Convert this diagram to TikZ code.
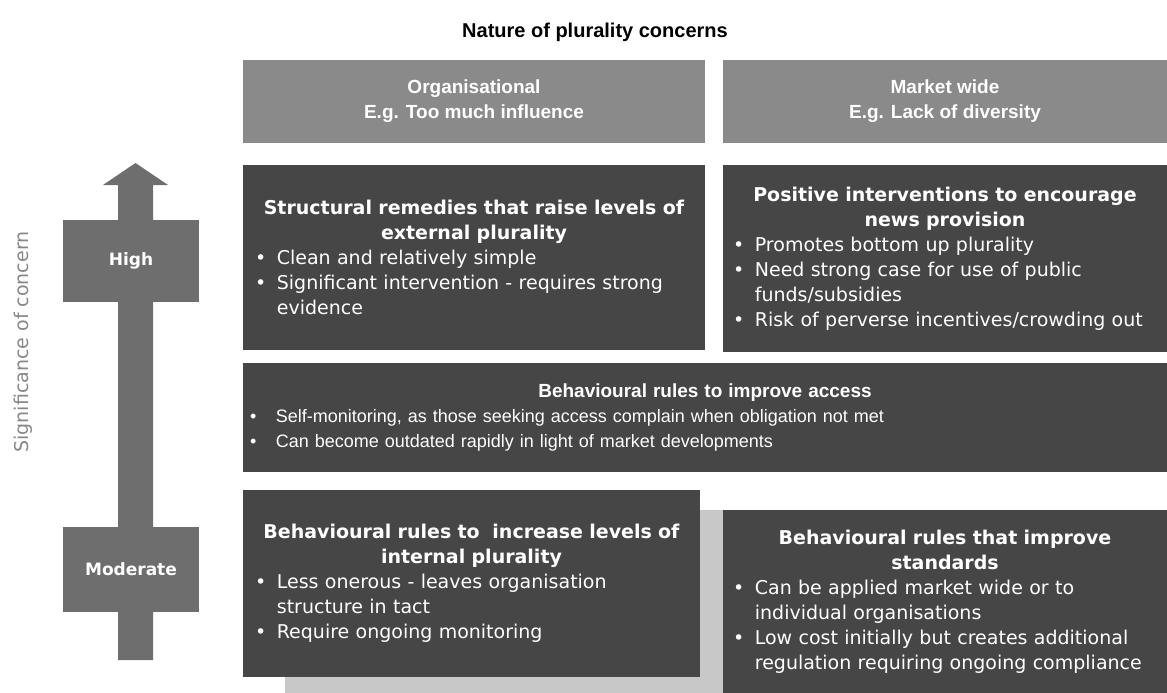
\documentclass[tikz,border=0pt]{standalone}
\usepackage{fontspec}
\setmainfont{DejaVu Sans}
\newfontfamily\arialfont{Liberation Sans}
\usetikzlibrary{positioning}
\definecolor{hdrgray}{RGB}{138,138,138}
\definecolor{boxgray}{RGB}{70,70,70}
\definecolor{axisgray}{RGB}{110,110,110}
\definecolor{shadegray}{RGB}{200,200,200}
\definecolor{labelgray}{RGB}{135,135,135}
\newcommand{\itm}[1][1.15em]{\par\noindent\hangindent=#1\hangafter=1\makebox[#1][l]{\textbullet}}

\begin{document}
\begin{tikzpicture}[x=1pt, y=-1pt,
  hdr/.style={fill=hdrgray, text=white, align=center, inner sep=0pt, minimum height=83pt,
    font=\arialfont\bfseries\fontsize{19pt}{25pt}\selectfont},
  panel/.style={fill=boxgray, text=white, align=left, inner ysep=0pt, inner xsep=#1,
    font=\fontsize{19pt}{25pt}\selectfont},
  lvl/.style={fill=axisgray, text=white, minimum width=136pt, inner sep=0pt,
    font=\bfseries\fontsize{17pt}{20pt}\selectfont},
]
  \useasboundingbox (0,0) rectangle (1167,693);

  \node[font=\arialfont\bfseries\fontsize{20pt}{24pt}\selectfont] (ttl) at (595,32) {Nature of plurality concerns};

  \node[hdr, minimum width=462pt] (org) at (474,101.5) {Organisational\\E.g. Too much influence};
  \node[hdr, minimum width=444pt] (mkt) at (945,101.5) {Market wide\\E.g. Lack of diversity};

  \node[panel=12pt, text width=438pt, minimum height=185pt] (strc) at (474,257.5) {
    {\centering\bfseries Structural remedies that raise levels of\\ external plurality\par}
    \itm Clean and relatively simple
    \itm Significant intervention - requires strong\newline evidence\par
  };
  \node[panel=10pt, text width=424pt, minimum height=187pt] (posi) at (945,258.5) {
    {\centering\bfseries Positive interventions to encourage\\ news provision\par}
    \itm Promotes bottom up plurality
    \itm Need strong case for use of public\newline funds/subsidies
    \itm Risk of perverse incentives/crowding out\par
  };

  \node[panel=7pt, text width=910pt, minimum height=109pt, font=\arialfont\fontsize{18pt}{25pt}\selectfont] (accs) at (705,417.5) {
    {\centering\bfseries\fontsize{19pt}{25pt}\selectfont Behavioural rules to improve access\par}
    \itm[1.1em] Self-monitoring, as those seeking access complain when obligation not met
    \itm[1.1em] Can become outdated rapidly in light of market developments\par
  };

  \fill[shadegray] (285,510) rectangle (1167,693);
  \node[panel=12pt, text width=433pt, minimum height=187pt] (intl) at (471.5,583.5) {
    {\centering\bfseries Behavioural rules to\ \ increase levels of\\ internal plurality\par}
    \itm Less onerous - leaves organisation\newline structure in tact
    \itm Require ongoing monitoring\par
  };
  \node[panel=10pt, text width=424pt, minimum height=183pt] (stnd) at (945,601.5) {
    {\centering\bfseries Behavioural rules that improve\\ standards\par}
    \itm Can be applied market wide or to\newline individual organisations
    \itm Low cost initially but creates additional\newline regulation requiring ongoing compliance\par
  };

  \fill[axisgray] (118,660) -- (118,185) -- (103,185) -- (135.5,163) -- (168,185)
    -- (153,185) -- (153,660) -- cycle;
  \node[lvl, minimum height=82pt] (high) at (131,261) {High};
  \node[lvl, minimum height=85pt] (modr) at (131,569.5) {Moderate};

  \node[rotate=90, text=labelgray, font=\fontsize{19pt}{24pt}\selectfont] (sig) at (23,342) {Significance of concern};
\end{tikzpicture}
\end{document}
